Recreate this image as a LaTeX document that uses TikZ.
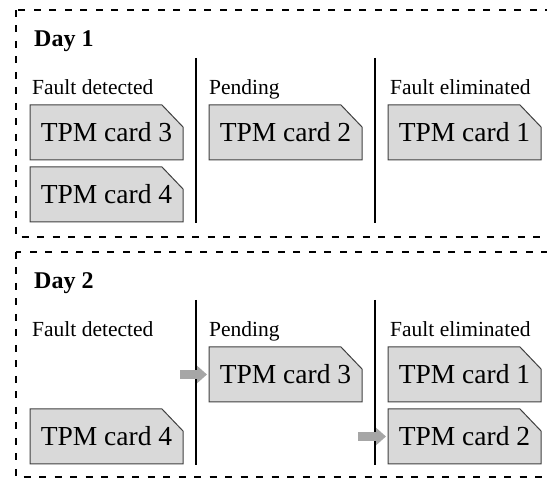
\documentclass[tikz,border=0pt]{standalone}
\usepackage{fontspec}
\setmainfont{Liberation Serif}
\usepackage{tikz}
\usetikzlibrary{arrows.meta}
\pgfdeclarelayer{bg}
\pgfsetlayers{bg,main}

\tikzset{
	cardbox/.style={minimum width=153pt, minimum height=55pt, inner sep=0pt, outer sep=0pt, font=\fontsize{27.5}{30}\selectfont},
	cardline/.style={draw=black!75, line width=1pt, fill=black!15},
	daylabel/.style={anchor=base west, inner sep=0pt, font=\fontsize{24}{28}\selectfont\bfseries},
	colhead/.style={anchor=base west, inner sep=0pt, font=\fontsize{21.5}{24}\selectfont},
	moveto/.style={line width=9pt, black!35, -{Triangle[length=10pt,width=17pt]}, shorten >=2pt}
}

\newcommand{\tpmcard}[3]{
	\node[cardbox] (#1) at #2 {TPM card #3};
	\begin{pgfonlayer}{bg}
		\draw[cardline] (#1.north west) -- ([xshift=-21pt]#1.north east) -- ([yshift=-22pt]#1.north east) -- (#1.south east) -- (#1.south west) -- cycle;
	\end{pgfonlayer}
}

\begin{document}
\begin{tikzpicture}[x=1pt, y=-1pt]
				\useasboundingbox (0,0) rectangle (547,481);
				\foreach \d/\o in {1/0,2/242} {
					\draw[line width=1.2pt, dash pattern=on 7pt off 8.5pt] (16,10+\o) rectangle (553,237+\o-2*\d+2);
					\node[daylabel] (day\d) at (34,47+\o) {Day \d};
					\node[colhead] (det\d) at (32,95+\o) {Fault detected};
					\node[colhead] (pen\d) at (209,95+\o) {Pending};
					\node[colhead] (eli\d) at (390,95+\o) {Fault eliminated};
					\draw[line width=1.3pt] (196,58+\o) -- (196,223+\o);
					\draw[line width=1.3pt] (375,58+\o) -- (375,223+\o);
				}
				\tpmcard{c3a}{(106.5,132.5)}{3}
				\tpmcard{c4a}{(106.5,194.5)}{4}
				\tpmcard{c2a}{(285.5,132.5)}{2}
				\tpmcard{c1a}{(464.5,132.5)}{1}
				\tpmcard{c3b}{(285.5,374.5)}{3}
				\tpmcard{c4b}{(106.5,436.5)}{4}
				\tpmcard{c1b}{(464.5,374.5)}{1}
				\tpmcard{c2b}{(464.5,436.5)}{2}
				\coordinate (m3) at (180,374.5);
				\coordinate (m2) at (358,436.5);
				\draw[moveto] (m3) -- (c3b);
				\draw[moveto] (m2) -- (c2b);
			\end{tikzpicture}
\end{document}
